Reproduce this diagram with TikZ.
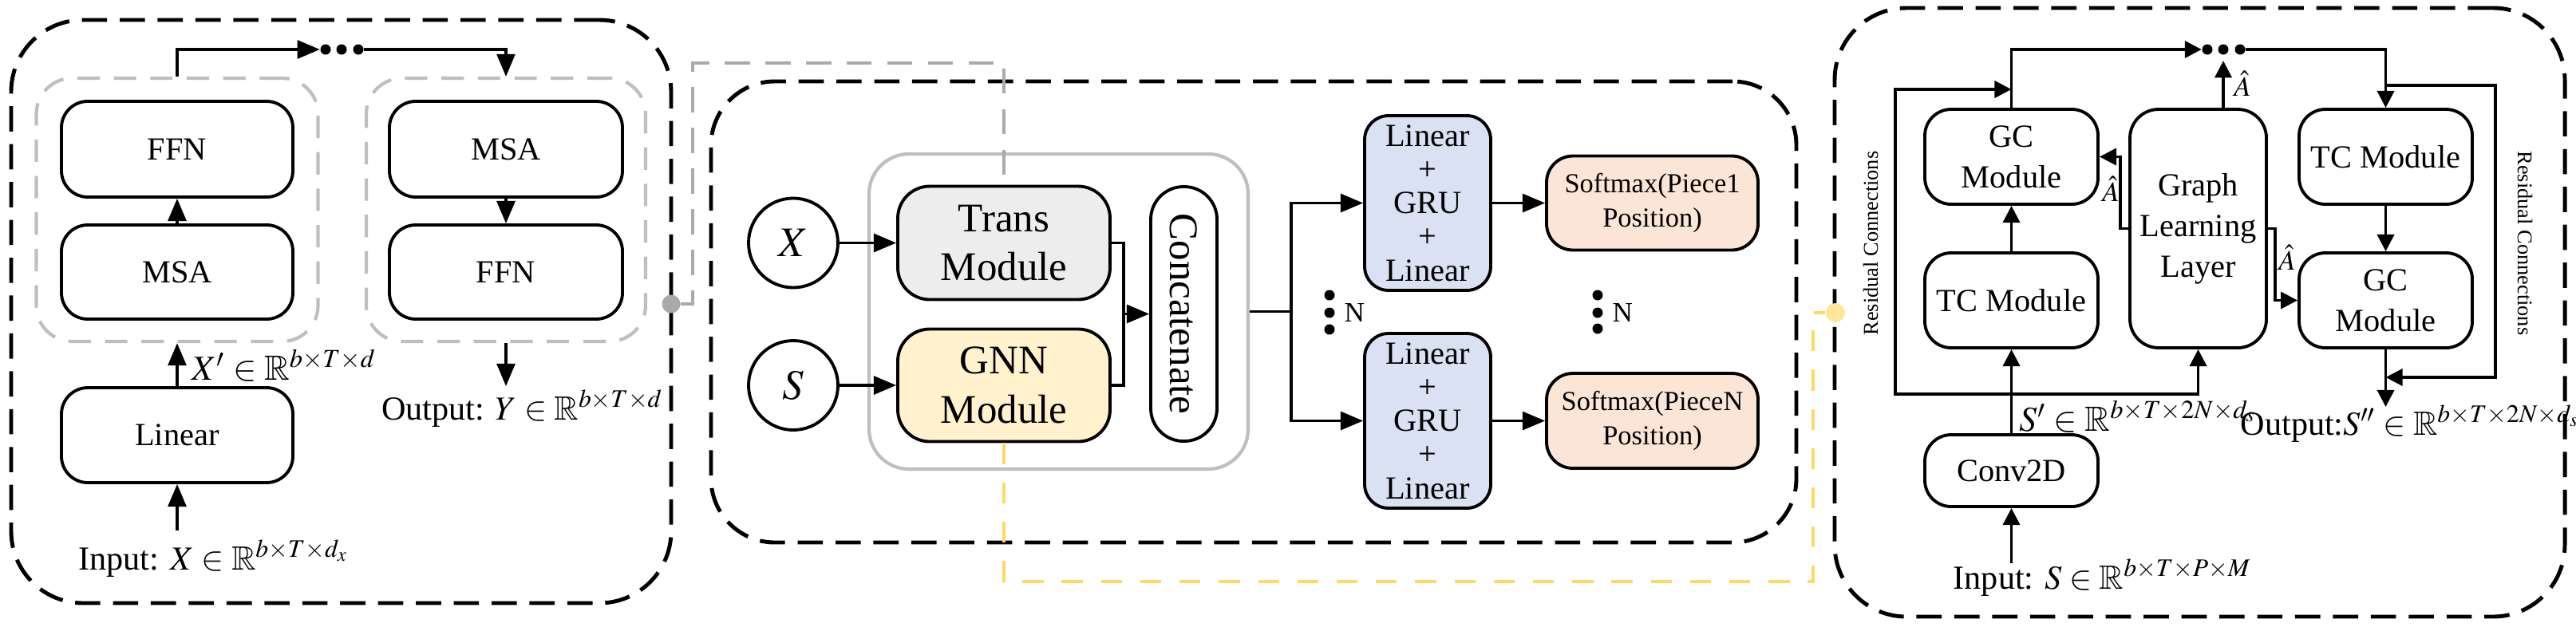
\documentclass[tikz,border=0pt]{standalone}
\usepackage{amssymb}
\usepackage{mathptmx}
\usepackage[no-math]{fontspec}
\setmainfont{Liberation Serif}
\newfontfamily\tnr{Liberation Serif}
\usepackage{tikz}
\usetikzlibrary{arrows.meta,positioning}

\definecolor{transgray}{HTML}{EDEDED}
\definecolor{gnnyellow}{HTML}{FFF2CC}
\definecolor{lgblue}{HTML}{DAE1F3}
\definecolor{smpeach}{HTML}{FBE5D6}
\definecolor{yline}{HTML}{FFD966}
\definecolor{ydot}{HTML}{FFE699}
\definecolor{gline}{HTML}{AAAAAA}
\definecolor{gframe}{HTML}{BFBFBF}

\begin{document}
\begin{tikzpicture}[x=1cm,y=-1cm,
	box/.style={draw,line width=1.1pt,rounded corners=0.33cm,align=center,inner sep=0pt,font=\tnr\fontsize{11.5}{14.5}\selectfont},
	panel/.style={draw,line width=1.4pt,dash pattern=on 9pt off 4.5pt,rounded corners=0.9cm,inner sep=0pt},
	group/.style={draw=gframe,line width=1.2pt,dash pattern=on 8pt off 5pt,rounded corners=0.45cm,inner sep=0pt},
	link/.style={line width=0.95pt,-{Triangle[length=8pt,width=6.5pt]}},
	links/.style={line width=0.95pt,-{Triangle[length=6pt,width=6pt]}},
	wire/.style={line width=0.95pt},
	dot/.style={circle,fill,inner sep=0pt,minimum size=0.13cm},
	lbl/.style={inner sep=0pt,font=\tnr\fontsize{12}{14}\selectfont},
	hat/.style={inner sep=0pt,font=\tnr\fontsize{10}{12}\selectfont}]
\useasboundingbox (0,0) rectangle (32.28,7.90);

\node[panel,minimum width=8.27cm,minimum height=7.31cm] (leftpanel) at (4.275,3.905) {};
\node[box,minimum width=2.90cm,minimum height=1.20cm] (ffnA) at (2.22,1.87) {FFN};
\node[box,minimum width=2.90cm,minimum height=1.18cm] (msaA) at (2.22,3.41) {MSA};
\node[box,minimum width=2.90cm,minimum height=1.19cm] (linA) at (2.22,5.455) {Linear};
\node[box,minimum width=2.92cm,minimum height=1.20cm] (msaB) at (6.34,1.87) {MSA};
\node[box,minimum width=2.92cm,minimum height=1.18cm] (ffnB) at (6.34,3.41) {FFN};
\node[group,minimum width=3.53cm,minimum height=3.30cm] (grpA) at (2.22,2.63) {};
\node[group,minimum width=3.50cm,minimum height=3.30cm] (grpB) at (6.34,2.63) {};
\node[dot] (dA1) at (4.08,0.62) {};
\node[dot] (dA2) at (4.28,0.62) {};
\node[dot] (dA3) at (4.49,0.62) {};
\draw[link] (grpA.north) |- (dA1.west);
\draw[link] (dA3.east) -| (grpB.north);
\draw[link] (msaA) -- (ffnA);
\draw[link] (msaB) -- (ffnB);
\draw[link] (linA.north) -- (grpA.south);
\node[lbl,anchor=base west,font=\tnr\fontsize{12.5}{14}\selectfont] (xprime) at (2.40,4.76) {$X'\in\mathbb{R}^{b\times T\times d}$};
\coordinate (inAtop) at (2.22,6.65);
\draw[link] (inAtop) -- (linA.south);
\node[lbl,anchor=base] (inA) at (2.68,7.14) {Input: $X\in\mathbb{R}^{b\times T\times d_x}$};
\coordinate (outAtop) at (6.34,4.84);
\draw[link] (grpB.south) -- (outAtop);
\node[lbl,anchor=base] (outA) at (6.545,5.26) {Output: $Y\in\mathbb{R}^{b\times T\times d}$};

\node[panel,minimum width=13.60cm,minimum height=5.78cm,rounded corners=0.8cm] (midpanel) at (15.71,3.91) {};
\node[draw=gframe,line width=1.2pt,rounded corners=0.5cm,minimum width=4.75cm,minimum height=3.95cm] (stack) at (13.265,3.905) {};
\node[circle,draw,line width=1.1pt,minimum size=1.12cm,font=\fontsize{15}{17}\selectfont] (xin) at (9.94,3.045) {$X$};
\node[circle,draw,line width=1.1pt,minimum size=1.12cm,font=\fontsize{15}{17}\selectfont] (sin) at (9.94,4.83) {$S$};
\node[box,fill=transgray,rounded corners=0.4cm,minimum width=2.66cm,minimum height=1.42cm,font=\tnr\fontsize{14.5}{17.5}\selectfont] (trans) at (12.58,3.045) {Trans\\Module};
\node[box,fill=gnnyellow,rounded corners=0.4cm,minimum width=2.66cm,minimum height=1.41cm,font=\tnr\fontsize{14.5}{17.5}\selectfont] (gnn) at (12.58,4.83) {GNN\\Module};
\node[box,rounded corners=0.41cm,minimum width=0.83cm,minimum height=3.19cm,font=\tnr\fontsize{14.5}{17.5}\selectfont] (concat) at (14.835,3.935) {\rotatebox{-90}{Concatenate}};
\draw[link] (xin) -- (trans);
\draw[link] (sin) -- (gnn);
\coordinate (join) at (14.08,3.935);
\draw[wire] (trans.east) -| (join);
\draw[wire] (gnn.east) -| (join);
\draw[link] (join) -- (concat.west);
\node[box,fill=lgblue,rounded corners=0.3cm,minimum width=1.58cm,minimum height=2.19cm,font=\tnr\fontsize{11.5}{12}\selectfont] (lg1) at (17.89,2.545) {Linear\\+\\GRU\\+\\Linear};
\node[box,fill=lgblue,rounded corners=0.3cm,minimum width=1.58cm,minimum height=2.19cm,font=\tnr\fontsize{11.5}{12}\selectfont] (lg2) at (17.89,5.275) {Linear\\+\\GRU\\+\\Linear};
\coordinate (fork) at (16.18,3.905);
\draw[wire] (stack.east) -- (fork);
\draw[link] (fork) |- (lg1.west);
\draw[link] (fork) |- (lg2.west);
\node[dot] (nA1) at (16.66,3.70) {};
\node[dot] (nA2) at (16.66,3.92) {};
\node[dot] (nA3) at (16.66,4.13) {};
\node[anchor=west,inner sep=0pt,font=\tnr\fontsize{10}{12}\selectfont] (nA) at (16.84,3.92) {N};
\node[box,fill=smpeach,minimum width=2.65cm,minimum height=1.18cm,font=\tnr\fontsize{9.8}{12}\selectfont] (sm1) at (20.705,2.545) {Softmax(Piece1\\Position)};
\node[box,fill=smpeach,minimum width=2.65cm,minimum height=1.19cm,font=\tnr\fontsize{9.8}{12}\selectfont] (sm2) at (20.705,5.275) {Softmax(PieceN\\Position)};
\draw[link] (lg1) -- (sm1);
\draw[link] (lg2) -- (sm2);
\node[dot] (nB1) at (20.02,3.70) {};
\node[dot] (nB2) at (20.02,3.92) {};
\node[dot] (nB3) at (20.02,4.12) {};
\node[anchor=west,inner sep=0pt,font=\tnr\fontsize{10}{12}\selectfont] (nB) at (20.20,3.92) {N};

\node[panel,minimum width=9.15cm,minimum height=7.63cm] (rightpanel) at (27.565,3.915) {};
\node[box,minimum width=2.17cm,minimum height=1.19cm] (gcA) at (25.205,1.965) {GC\\Module};
\node[box,minimum width=2.17cm,minimum height=1.19cm] (tcA) at (25.205,3.765) {TC Module};
\node[box,minimum width=2.17cm,minimum height=0.90cm] (conv) at (25.205,5.90) {Conv2D};
\node[box,rounded corners=0.36cm,minimum width=1.71cm,minimum height=2.99cm] (gll) at (27.545,2.865) {Graph\\Learning\\Layer};
\node[box,minimum width=2.17cm,minimum height=1.19cm] (tcB) at (29.895,1.965) {TC Module};
\node[box,minimum width=2.17cm,minimum height=1.19cm] (gcB) at (29.895,3.765) {GC\\Module};
\node[dot] (dB1) at (27.66,0.62) {};
\node[dot] (dB2) at (27.86,0.62) {};
\node[dot] (dB3) at (28.07,0.62) {};
\coordinate (inBtop) at (25.205,7.06);
\draw[links] (inBtop) -- (conv.south);
\node[lbl,anchor=base] (inB) at (26.345,7.38) {Input: $S\in\mathbb{R}^{b\times T\times P\times M}$};
\draw[links] (conv) -- (tcA);
\node[lbl,anchor=base west,font=\tnr\fontsize{12.5}{14}\selectfont] (sprime) at (25.30,5.40) {$S'\in\mathbb{R}^{b\times T\times 2N\times d_s}$};
\coordinate (resA) at (25.205,4.94);
\coordinate (resAtl) at (23.75,1.12);
\draw[links] (resA) -| (resAtl) -- (resAtl -| gcA.north);
\draw[links] (resA) -| (gll.south);
\draw[links] (tcA) -- (gcA);
\draw[links] (gcA.north) |- (dB1.west);
\draw[links] (dB3.east) -| (tcB.north);
\draw[links] (dB2 |- gll.north) -- ([yshift=-2pt]dB2.south);
\node[hat] (ahatA) at (28.10,1.05) {$\hat{A}$};
\draw[links] (gll.west) -- ++(-0.10,0) |- (gcA.east);
\node[hat] (ahatB) at (26.45,2.37) {$\hat{A}$};
\draw[links] (gll.east) -- ++(0.09,0) |- (gcB.west);
\node[hat] (ahatC) at (28.66,3.23) {$\hat{A}$};
\draw[links] (tcB) -- (gcB);
\coordinate (outBtop) at (29.895,5.10);
\draw[links] (gcB.south) -- (outBtop);
\coordinate (resB) at (29.895,1.07);
\coordinate (resBbr) at (31.27,4.73);
\draw[links] (resB) -| (resBbr) -- (resBbr -| gcB.south);
\node[lbl,anchor=base] (outB) at (30.205,5.45) {Output:$S''\in\mathbb{R}^{b\times T\times 2N\times d_s}$};
\node[rotate=90,inner sep=0pt,font=\tnr\fontsize{7.5}{9}\selectfont] (resLabA) at (23.44,3.05) {Residual Connections};
\node[rotate=-90,inner sep=0pt,font=\tnr\fontsize{7.5}{9}\selectfont] (resLabB) at (31.64,3.05) {Residual Connections};

\node[circle,fill=gline,inner sep=0pt,minimum size=0.23cm] (gdot) at (8.41,3.81) {};
\coordinate (gbend) at (8.68,0.79);
\draw[gline,line width=1.2pt,dash pattern=on 9pt off 5.5pt] (gdot.east) -| (gbend) -| (trans.north);
\node[circle,fill=ydot,inner sep=0pt,minimum size=0.24cm] (ybead) at (23.00,3.92) {};
\coordinate (ybend) at (22.72,7.29);
\draw[yline,line width=1.2pt,dash pattern=on 7.5pt off 6.5pt] (gnn.south) |- (ybend) |- (ybead.west);
\end{tikzpicture}
\end{document}
